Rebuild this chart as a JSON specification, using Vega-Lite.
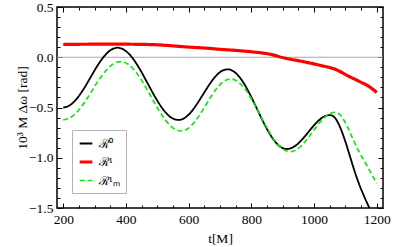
{
  "$schema": "https://vega.github.io/schema/vega-lite/v6.json",
  "width": 326,
  "height": 201,
  "autosize": {"type": "none"},
  "padding": {"left": 57, "top": 7, "right": 16, "bottom": 39},
  "config": {
    "view": {"stroke": "black", "strokeWidth": 1.5},
    "font": "Liberation Serif",
    "axis": {
      "domain": false,
      "grid": false,
      "labelFont": "Liberation Serif",
      "labelFontSize": 13.5,
      "labelColor": "black",
      "titleFont": "Liberation Serif",
      "titleFontSize": 13.5,
      "titleFontWeight": "normal",
      "titleColor": "black",
      "tickColor": "black",
      "tickWidth": 1,
      "labelFlush": false,
      "labelOverlap": false
    },
    "legend": {
      "orient": "bottom-left",
      "offset": 15,
      "fillColor": "white",
      "strokeColor": "#b5b5b5",
      "padding": 6,
      "symbolType": "stroke",
      "symbolSize": 160,
      "labelFont": "Liberation Serif",
      "labelFontSize": 12,
      "labelColor": "black",
      "rowPadding": 4,
      "labelOffset": 5
    }
  },
  "layer": [
    {
      "data": {"values": [{"a": 1}]},
      "mark": {"type": "rule", "color": "#a8a8a8", "strokeWidth": 1},
      "encoding": {
        "x": {"datum": 180, "type": "quantitative", "scale": {"domain": [180, 1220], "nice": false, "zero": false},
          "axis": {"orient": "top", "labels": false, "title": null,
            "values": [200,250,300,350,400,450,500,550,600,650,700,750,800,850,900,950,1000,1050,1100,1150,1200],
            "tickSize": {"condition": {"test": "datum.value % 200 === 0", "value": -5}, "value": -3}}},
        "x2": {"datum": 1220},
        "y": {"datum": 0, "type": "quantitative", "scale": {"domain": [-1.5, 0.5], "nice": false, "zero": false},
          "axis": {"orient": "right", "labels": false, "title": null,
            "values": [-1.5,-1.4,-1.3,-1.2,-1.1,-1.0,-0.9,-0.8,-0.7,-0.6,-0.5,-0.4,-0.3,-0.2,-0.1,0,0.1,0.2,0.3,0.4,0.5],
            "tickSize": {"condition": {"test": "abs(datum.value*2 - round(datum.value*2)) < 0.000001", "value": -5}, "value": -3}}}
      }
    },
    {
      "data": {"values": [
        {"s":"ℛ⁰","t":200,"v":-0.500},{"s":"ℛ⁰","t":221.6,"v":-0.477},{"s":"ℛ⁰","t":243,"v":-0.413},{"s":"ℛ⁰","t":265,"v":-0.316},
        {"s":"ℛ⁰","t":286.5,"v":-0.203},{"s":"ℛ⁰","t":308,"v":-0.089},{"s":"ℛ⁰","t":330,"v":0.008},{"s":"ℛ⁰","t":351.4,"v":0.072},
        {"s":"ℛ⁰","t":373,"v":0.095},{"s":"ℛ⁰","t":397,"v":0.068},{"s":"ℛ⁰","t":421.5,"v":-0.010},{"s":"ℛ⁰","t":445.8,"v":-0.127},
        {"s":"ℛ⁰","t":470,"v":-0.265},{"s":"ℛ⁰","t":494.3,"v":-0.402},{"s":"ℛ⁰","t":518.5,"v":-0.519},{"s":"ℛ⁰","t":542.8,"v":-0.597},
        {"s":"ℛ⁰","t":567,"v":-0.624},{"s":"ℛ⁰","t":586.6,"v":-0.605},{"s":"ℛ⁰","t":606.3,"v":-0.550},{"s":"ℛ⁰","t":625.9,"v":-0.468},
        {"s":"ℛ⁰","t":645.5,"v":-0.372},{"s":"ℛ⁰","t":665.1,"v":-0.276},{"s":"ℛ⁰","t":684.8,"v":-0.194},{"s":"ℛ⁰","t":704.4,"v":-0.139},
        {"s":"ℛ⁰","t":724,"v":-0.120},{"s":"ℛ⁰","t":747.6,"v":-0.150},{"s":"ℛ⁰","t":771.3,"v":-0.236},{"s":"ℛ⁰","t":794.9,"v":-0.365},
        {"s":"ℛ⁰","t":818.5,"v":-0.517},{"s":"ℛ⁰","t":842.1,"v":-0.668},{"s":"ℛ⁰","t":865.8,"v":-0.797},{"s":"ℛ⁰","t":889.4,"v":-0.883},
        {"s":"ℛ⁰","t":913,"v":-0.913},{"s":"ℛ⁰","t":930.3,"v":-0.900},{"s":"ℛ⁰","t":947.5,"v":-0.864},{"s":"ℛ⁰","t":964.8,"v":-0.809},
        {"s":"ℛ⁰","t":982,"v":-0.744},{"s":"ℛ⁰","t":999.3,"v":-0.679},{"s":"ℛ⁰","t":1016.5,"v":-0.624},{"s":"ℛ⁰","t":1033.8,"v":-0.588},
        {"s":"ℛ⁰","t":1051,"v":-0.575},{"s":"ℛ⁰","t":1066,"v":-0.600},{"s":"ℛ⁰","t":1083,"v":-0.695},{"s":"ℛ⁰","t":1100,"v":-0.840},
        {"s":"ℛ⁰","t":1115,"v":-0.990},{"s":"ℛ⁰","t":1130,"v":-1.140},{"s":"ℛ⁰","t":1146,"v":-1.280},{"s":"ℛ⁰","t":1162,"v":-1.400},
        {"s":"ℛ⁰","t":1178,"v":-1.510},{"s":"ℛ⁰","t":1200,"v":-1.660},

        {"s":"ℛ¹","t":200,"v":0.127},{"s":"ℛ¹","t":250,"v":0.129},{"s":"ℛ¹","t":300,"v":0.130},{"s":"ℛ¹","t":350,"v":0.131},
        {"s":"ℛ¹","t":400,"v":0.130},{"s":"ℛ¹","t":450,"v":0.128},{"s":"ℛ¹","t":500,"v":0.124},{"s":"ℛ¹","t":550,"v":0.113},
        {"s":"ℛ¹","t":600,"v":0.101},{"s":"ℛ¹","t":650,"v":0.092},{"s":"ℛ¹","t":700,"v":0.079},{"s":"ℛ¹","t":750,"v":0.068},
        {"s":"ℛ¹","t":805,"v":0.053},{"s":"ℛ¹","t":860,"v":0.030},{"s":"ℛ¹","t":900,"v":-0.003},{"s":"ℛ¹","t":966,"v":-0.044},
        {"s":"ℛ¹","t":1019,"v":-0.080},{"s":"ℛ¹","t":1072,"v":-0.125},{"s":"ℛ¹","t":1105,"v":-0.180},{"s":"ℛ¹","t":1146,"v":-0.243},
        {"s":"ℛ¹","t":1175,"v":-0.290},{"s":"ℛ¹","t":1200,"v":-0.350},

        {"s":"ℛ¹ₘ","t":200,"v":-0.624},{"s":"ℛ¹ₘ","t":222.9,"v":-0.602},{"s":"ℛ¹ₘ","t":245.8,"v":-0.539},{"s":"ℛ¹ₘ","t":268.6,"v":-0.445},
        {"s":"ℛ¹ₘ","t":291.5,"v":-0.334},{"s":"ℛ¹ₘ","t":314.4,"v":-0.223},{"s":"ℛ¹ₘ","t":337.3,"v":-0.129},{"s":"ℛ¹ₘ","t":360.1,"v":-0.066},
        {"s":"ℛ¹ₘ","t":383,"v":-0.044},{"s":"ℛ¹ₘ","t":407.1,"v":-0.070},{"s":"ℛ¹ₘ","t":431.3,"v":-0.145},{"s":"ℛ¹ₘ","t":455.4,"v":-0.257},
        {"s":"ℛ¹ₘ","t":479.5,"v":-0.389},{"s":"ℛ¹ₘ","t":503.6,"v":-0.521},{"s":"ℛ¹ₘ","t":527.8,"v":-0.633},{"s":"ℛ¹ₘ","t":551.9,"v":-0.708},
        {"s":"ℛ¹ₘ","t":576,"v":-0.734},{"s":"ℛ¹ₘ","t":595.8,"v":-0.714},{"s":"ℛ¹ₘ","t":615.5,"v":-0.658},{"s":"ℛ¹ₘ","t":635.3,"v":-0.574},
        {"s":"ℛ¹ₘ","t":655,"v":-0.475},{"s":"ℛ¹ₘ","t":674.8,"v":-0.376},{"s":"ℛ¹ₘ","t":694.5,"v":-0.292},{"s":"ℛ¹ₘ","t":714.3,"v":-0.236},
        {"s":"ℛ¹ₘ","t":734,"v":-0.216},{"s":"ℛ¹ₘ","t":757.6,"v":-0.244},{"s":"ℛ¹ₘ","t":781.3,"v":-0.322},{"s":"ℛ¹ₘ","t":804.9,"v":-0.440},
        {"s":"ℛ¹ₘ","t":828.5,"v":-0.578},{"s":"ℛ¹ₘ","t":852.1,"v":-0.716},{"s":"ℛ¹ₘ","t":875.8,"v":-0.834},{"s":"ℛ¹ₘ","t":899.4,"v":-0.912},
        {"s":"ℛ¹ₘ","t":923,"v":-0.940},{"s":"ℛ¹ₘ","t":941,"v":-0.925},{"s":"ℛ¹ₘ","t":959,"v":-0.883},{"s":"ℛ¹ₘ","t":977,"v":-0.819},
        {"s":"ℛ¹ₘ","t":995,"v":-0.744},{"s":"ℛ¹ₘ","t":1013,"v":-0.669},{"s":"ℛ¹ₘ","t":1031,"v":-0.605},{"s":"ℛ¹ₘ","t":1049,"v":-0.563},
        {"s":"ℛ¹ₘ","t":1067,"v":-0.548},{"s":"ℛ¹ₘ","t":1085,"v":-0.580},{"s":"ℛ¹ₘ","t":1105,"v":-0.680},{"s":"ℛ¹ₘ","t":1125,"v":-0.820},
        {"s":"ℛ¹ₘ","t":1146,"v":-0.955},{"s":"ℛ¹ₘ","t":1160,"v":-1.030},{"s":"ℛ¹ₘ","t":1178,"v":-1.130},{"s":"ℛ¹ₘ","t":1200,"v":-1.254}
      ]},
      "mark": {"type": "line", "interpolate": "monotone", "clip": true},
      "encoding": {
        "x": {"field": "t", "type": "quantitative", "scale": {"domain": [180, 1220], "nice": false, "zero": false},
          "axis": {"orient": "bottom", "title": "t[M]", "titlePadding": 4, "labelPadding": 9, "format": "d",
            "values": [200,250,300,350,400,450,500,550,600,650,700,750,800,850,900,950,1000,1050,1100,1150,1200],
            "labelExpr": "datum.value % 200 === 0 ? datum.label : ''",
            "tickSize": {"condition": {"test": "datum.value % 200 === 0", "value": -5}, "value": -3}}},
        "y": {"field": "v", "type": "quantitative", "scale": {"domain": [-1.5, 0.5], "nice": false, "zero": false},
          "axis": {"orient": "left", "title": "10³ M Δω [rad]", "titlePadding": -1, "labelPadding": 9, "format": ".1f",
            "values": [-1.5,-1.4,-1.3,-1.2,-1.1,-1.0,-0.9,-0.8,-0.7,-0.6,-0.5,-0.4,-0.3,-0.2,-0.1,0,0.1,0.2,0.3,0.4,0.5],
            "labelExpr": "abs(datum.value*2 - round(datum.value*2)) < 0.000001 ? datum.label : ''",
            "tickSize": {"condition": {"test": "abs(datum.value*2 - round(datum.value*2)) < 0.000001", "value": -5}, "value": -3}}},
        "color": {"field": "s", "type": "nominal", "title": null,
          "scale": {"domain": ["ℛ⁰", "ℛ¹", "ℛ¹ₘ"], "range": ["#000000", "#ff0000", "#00ee00"]}},
        "strokeDash": {"field": "s", "type": "nominal", "title": null,
          "scale": {"domain": ["ℛ⁰", "ℛ¹", "ℛ¹ₘ"], "range": [[1, 0], [1, 0], [5, 3]]}},
        "strokeWidth": {"field": "s", "type": "nominal", "title": null,
          "scale": {"type": "ordinal", "domain": ["ℛ⁰", "ℛ¹", "ℛ¹ₘ"], "range": [1.8, 3.2, 1.6]}}
      }
    }
  ]
}
